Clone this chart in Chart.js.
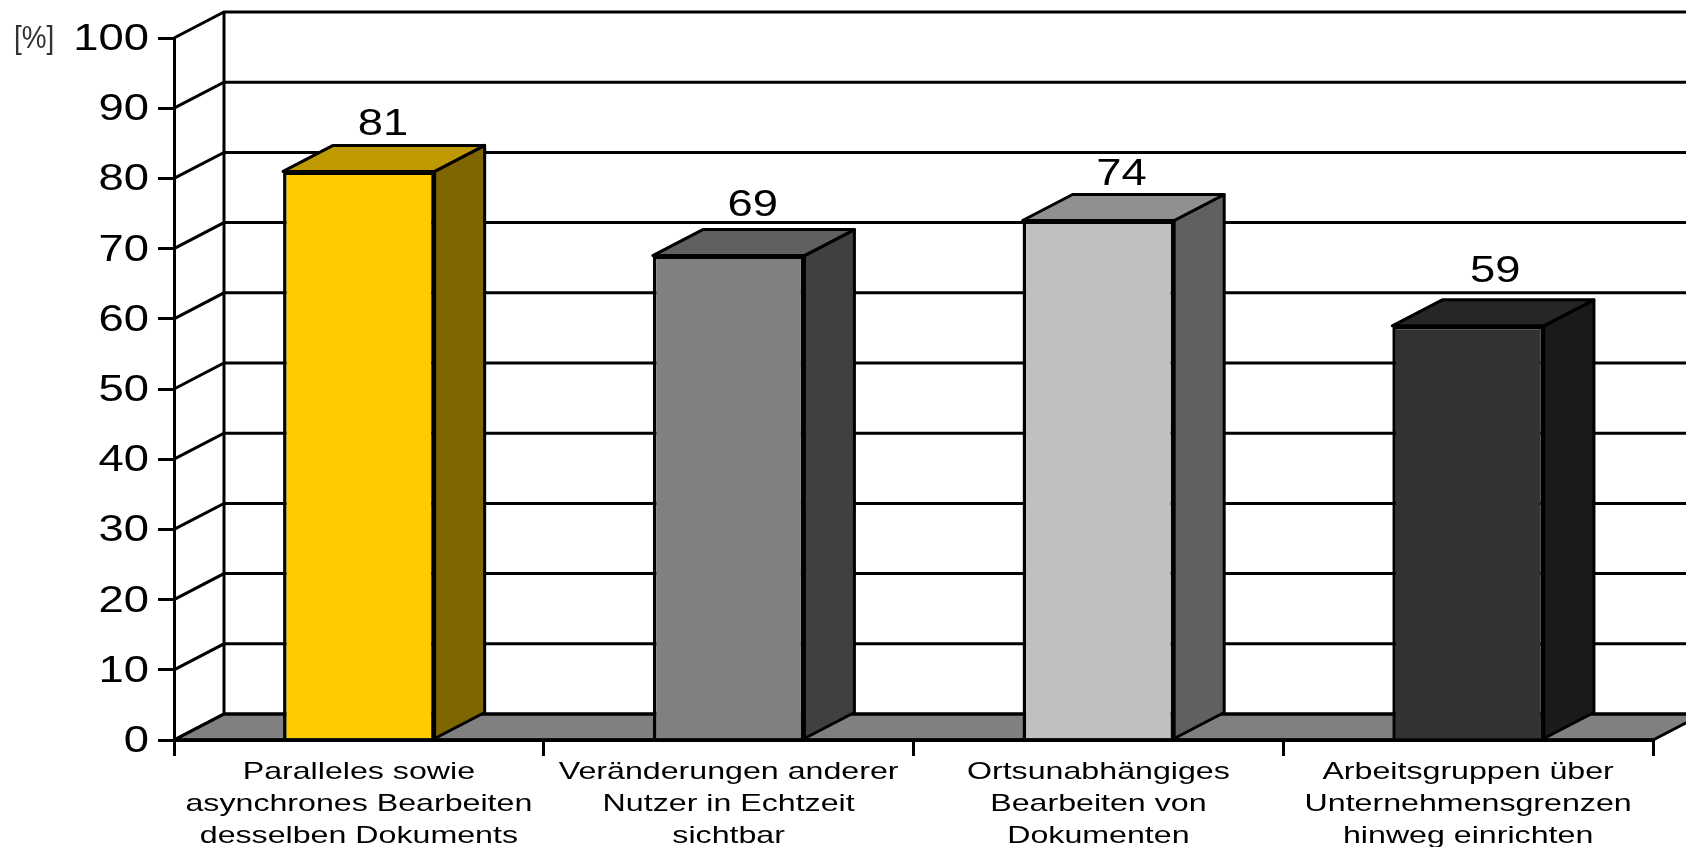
<!DOCTYPE html>
<html>
<head>
<meta charset="utf-8">
<style>
  html, body { margin: 0; padding: 0; background: #ffffff; overflow: hidden; }
  canvas { display: block; }
</style>
<script src="https://cdn.jsdelivr.net/npm/chart.js@4"></script>
</head>
<body>
<canvas id="grafik" width="1686" height="847"></canvas>
<script>
const kategorien = [
    ['Paralleles sowie', 'asynchrones Bearbeiten', 'desselben Dokuments'],
    ['Veränderungen anderer', 'Nutzer in Echtzeit', 'sichtbar'],
    ['Ortsunabhängiges', 'Bearbeiten von', 'Dokumenten'],
    ['Arbeitsgruppen über', 'Unternehmensgrenzen', 'hinweg einrichten']
];
const werte = [81, 69, 74, 59];
const einheit = '[%]';

const farbenVorne = ['#FFCC00', '#808080', '#C0C0C0', '#333333'];
const farbenSeite = ['#806600', '#404040', '#606060', '#1A1A1A'];
const farbenOben = ['#BF9900', '#606060', '#909090', '#262626'];

// Wertebeschriftung sitzt in der Vorlage nicht ganz gleichmaessig
const versatzX = [-1, -1, -2, 2];
const versatzY = [1, -3, 2, -7];

const tiefeX = 50;
const tiefeY = 26;
const linie = 3.5;
const schrift = "'Liberation Sans', Arial, sans-serif";

function flaeche(ctx, punkte, farbe) {
    ctx.beginPath();
    punkte.forEach((p, i) => i ? ctx.lineTo(p[0], p[1]) : ctx.moveTo(p[0], p[1]));
    ctx.closePath();
    if (farbe) {
        ctx.fillStyle = farbe;
        ctx.fill();
    }
    ctx.stroke();
}

// die Vorlage ist horizontal gestreckt, darum eigene Textausgabe
function text(ctx, inhalt, x, y, groesse, streckung, ausrichtung, farbe) {
    ctx.save();
    ctx.font = groesse + 'px ' + schrift;
    ctx.fillStyle = farbe || '#000000';
    ctx.textAlign = ausrichtung;
    ctx.textBaseline = 'middle';
    ctx.translate(x, y);
    ctx.scale(streckung, 1);
    ctx.fillText(inhalt, 0, 0);
    ctx.restore();
}

const wand = {
    id: 'wand',
    beforeDatasetsDraw(chart) {
        const { ctx, chartArea, scales } = chart;
        const unten = scales.y.getPixelForValue(0);
        const ende = chart.width + tiefeX;
        ctx.save();
        ctx.strokeStyle = '#000000';
        ctx.lineWidth = 3;
        ctx.lineJoin = 'miter';
        flaeche(ctx, [
            [chartArea.left, unten],
            [chartArea.right, unten],
            [chartArea.right + tiefeX, unten - tiefeY],
            [chartArea.left + tiefeX, unten - tiefeY]
        ], '#808080');
        scales.y.ticks.forEach((tick) => {
            const y = scales.y.getPixelForValue(tick.value);
            ctx.beginPath();
            ctx.moveTo(chartArea.left, y);
            ctx.lineTo(chartArea.left + tiefeX, y - tiefeY);
            ctx.lineTo(ende, y - tiefeY);
            ctx.stroke();
        });
        ctx.beginPath();
        ctx.moveTo(chartArea.left + tiefeX, chartArea.top - tiefeY);
        ctx.lineTo(chartArea.left + tiefeX, unten - tiefeY);
        ctx.stroke();
        ctx.restore();
    },
    afterDatasetsDraw(chart) {
        // Grundlinie liegt vor den Saeulen
        const { ctx, chartArea, scales } = chart;
        const unten = scales.y.getPixelForValue(0);
        ctx.save();
        ctx.strokeStyle = '#000000';
        ctx.lineWidth = 3.5;
        ctx.beginPath();
        ctx.moveTo(chartArea.left, unten);
        ctx.lineTo(chartArea.right, unten);
        ctx.stroke();
        ctx.restore();
    }
};

const saeulen = {
    id: 'saeulen',
    beforeDatasetDraw(chart) {
        const { ctx } = chart;
        ctx.save();
        ctx.strokeStyle = '#000000';
        ctx.lineWidth = 3;
        ctx.lineJoin = 'round';
        chart.getDatasetMeta(0).data.forEach((balken, i) => {
            const links = balken.x - balken.width / 2;
            const rechts = balken.x + balken.width / 2;
            flaeche(ctx, [
                [rechts, balken.y],
                [rechts + tiefeX, balken.y - tiefeY],
                [rechts + tiefeX, balken.base - tiefeY],
                [rechts, balken.base]
            ], farbenSeite[i]);
            flaeche(ctx, [
                [links, balken.y],
                [links + tiefeX, balken.y - tiefeY],
                [rechts + tiefeX, balken.y - tiefeY],
                [rechts, balken.y]
            ], farbenOben[i]);
        });
        ctx.restore();
    }
};

const beschriftung = {
    id: 'beschriftung',
    afterDraw(chart) {
        const { ctx, chartArea, scales } = chart;
        scales.y.ticks.forEach((tick) => {
            text(ctx, String(tick.value), chartArea.left - 25, scales.y.getPixelForValue(tick.value) + 2, 36, 1.26, 'right');
        });
        scales.x.ticks.forEach((tick, i) => {
            const mitte = scales.x.getPixelForTick(i);
            tick.label.forEach((zeile, z) => {
                text(ctx, zeile, mitte, chartArea.bottom + 32 + z * 32.2, 24, 1.34, 'center');
            });
        });
        chart.getDatasetMeta(0).data.forEach((balken, i) => {
            text(ctx, String(werte[i]), balken.x + tiefeX / 2 + versatzX[i], balken.y - tiefeY - 21 + versatzY[i], 36, 1.26, 'center');
        });
        text(ctx, einheit, 14, 39, 31, 0.9, 'left', '#333333');
    }
};

new Chart(document.getElementById('grafik'), {
    type: 'bar',
    data: {
        labels: kategorien,
        datasets: [{
            data: werte,
            backgroundColor: farbenVorne,
            borderColor: '#000000',
            borderWidth: linie,
            borderSkipped: 'bottom',
            categoryPercentage: 1,
            barPercentage: 0.41
        }]
    },
    plugins: [wand, saeulen, beschriftung],
    options: {
        responsive: false,
        animation: false,
        layout: {
            padding: { top: 38, left: 158, right: 33, bottom: 91 }
        },
        plugins: {
            legend: { display: false },
            tooltip: { enabled: false }
        },
        scales: {
            x: {
                grid: {
                    drawOnChartArea: false,
                    color: '#000000',
                    lineWidth: 3,
                    tickLength: 16
                },
                border: { color: '#000000', width: 3 },
                ticks: { display: false }
            },
            y: {
                min: 0,
                max: 100,
                grid: {
                    drawOnChartArea: false,
                    color: '#000000',
                    lineWidth: 3,
                    tickLength: 16
                },
                border: { color: '#000000', width: 3 },
                ticks: { display: false, stepSize: 10 }
            }
        }
    }
});
</script>
</body>
</html>
